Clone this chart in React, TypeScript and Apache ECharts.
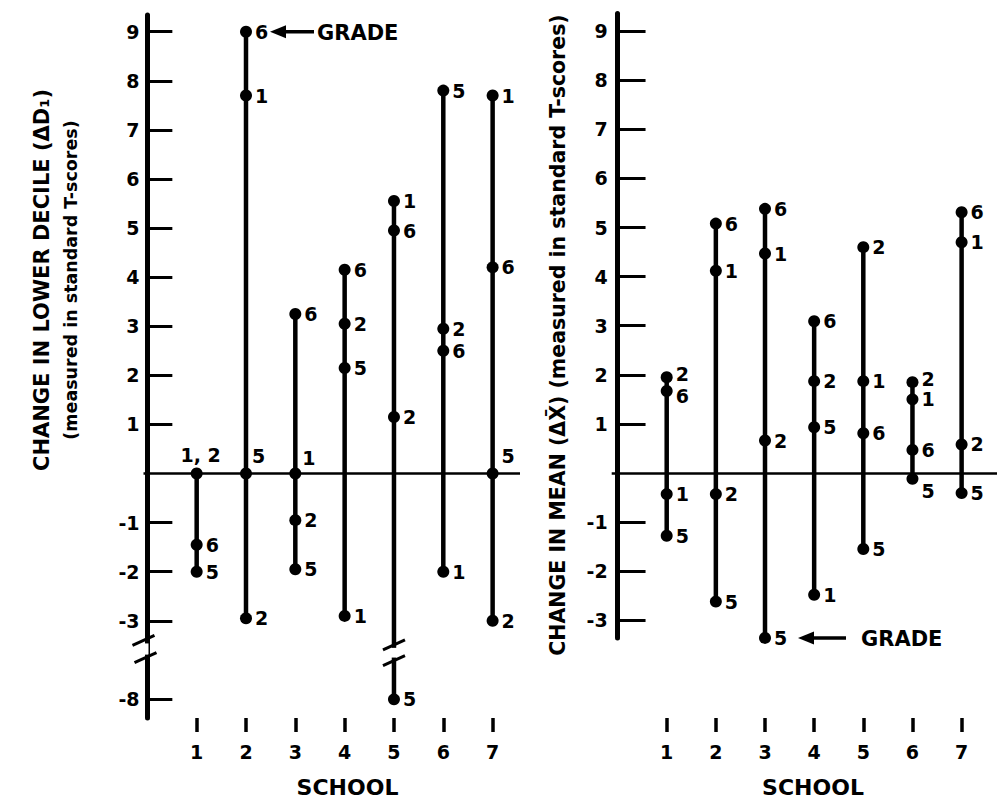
import React, { useEffect, useRef } from "react";
import * as echarts from "echarts";

// ---------- data ----------
const schools = [1, 2, 3, 4, 5, 6, 7];
const grades = [1, 2, 5, 6];
const yTickValues = [9, 8, 7, 6, 5, 4, 3, 2, 1, -1, -2, -3];
const decileTickBelowBreak = -8;

// Change in lower decile (ΔD1), one value per school, per grade
const decileGrade1 = [0, 7.7, 0, -2.9, 5.55, -2.0, 7.7];
const decileGrade2 = [0, -2.95, -0.95, 3.05, 1.15, 2.95, -3.0];
const decileGrade5 = [-2.0, 0, -1.95, 2.15, -8, 7.8, 0];
const decileGrade6 = [-1.45, 9.0, 3.25, 4.15, 4.95, 2.5, 4.2];

// Change in mean (ΔX̄)
const meanGrade1 = [-0.43, 4.12, 4.47, -2.48, 1.87, 1.5, 4.7];
const meanGrade2 = [1.95, -0.43, 0.66, 1.87, 4.6, 1.85, 0.58];
const meanGrade5 = [-1.28, -2.62, -3.36, 0.93, -1.55, -0.12, -0.41];
const meanGrade6 = [1.67, 5.08, 5.38, 3.09, 0.81, 0.47, 5.31];

// ---------- styling / layout ----------
const FONT = "'DejaVu Sans', 'Liberation Sans', sans-serif";
const SYM = 12;
const BREAK_FROM = -3;
const BREAK_SCALE = 0.32;
const tfDecile = (v: number) => (v < BREAK_FROM ? BREAK_FROM + (v - BREAK_FROM) * BREAK_SCALE : v);

type Nudge = { dx: number; dy: number; align?: "left" | "center" };
const defaultNudge: Nudge = { dx: 9, dy: 0 };
const nudges: Record<string, Nudge> = {
  "decile-1-1, 2": { dx: 4, dy: -19, align: "center" },
  "decile-2-5": { dx: 6, dy: -18 },
  "decile-3-1": { dx: 7, dy: -16 },
  "decile-7-5": { dx: 9, dy: -18 },
  "mean-1-2": { dx: 9, dy: -3 },
  "mean-1-6": { dx: 9, dy: 5 },
  "mean-6-2": { dx: 9, dy: -3 },
  "mean-6-5": { dx: 9, dy: 12 },
};

const LEFT = { xMin: -0.078, xMax: 7.555, yMin: -4.98, yMax: 9.34, left: 143.5, top: 15, width: 376.5, height: 703 };
const RIGHT = { xMin: -0.119, xMax: 7.72, yMin: -3.36, yMax: 9.36, left: 611.7, top: 13.5, width: 385.3, height: 624.4 };

function buildSeries(panel: "decile" | "mean", axisIndex: number, arrays: number[][], tf: (v: number) => number) {
  return schools.map((school, si) => {
    const groups: { value: number; label: string[] }[] = [];
    grades.forEach((g, gi) => {
      const v = arrays[gi][si];
      const found = groups.find((x) => x.value === v);
      if (found) found.label.push(String(g));
      else groups.push({ value: v, label: [String(g)] });
    });
    groups.sort((a, b) => b.value - a.value);
    const data = groups.map((gr) => {
      const lab = gr.label.join(", ");
      const n = nudges[`${panel}-${school}-${lab}`] || defaultNudge;
      return {
        name: lab,
        value: [school, tf(gr.value)],
        label: {
          position: [SYM / 2 + n.dx, SYM / 2 + n.dy],
          align: n.align || "left",
          verticalAlign: "middle",
        },
      };
    });
    const s: any = {
      type: "line",
      xAxisIndex: axisIndex,
      yAxisIndex: axisIndex,
      data,
      symbol: "circle",
      symbolSize: SYM,
      silent: true,
      itemStyle: { color: "#000" },
      lineStyle: { color: "#000", width: 4.5 },
      label: {
        show: true,
        formatter: "{b}",
        fontFamily: FONT,
        fontWeight: "bold",
        fontSize: 19,
        color: "#000",
      },
      z: 3,
    };
    if (si === 0) {
      s.markLine = {
        silent: true,
        symbol: "none",
        label: { show: false },
        lineStyle: { color: "#000", width: 2.5, type: "solid" },
        data: [{ yAxis: 0 }],
      };
    }
    return s;
  });
}

function yAxisCfg(gridIndex: number, range: any, tickLen: number, ticks: number[], fmt: (v: number) => string) {
  return {
    type: "value",
    gridIndex,
    min: range.yMin,
    max: range.yMax,
    axisLine: { show: true, lineStyle: { color: "#000", width: 5 } },
    axisTick: { show: true, inside: true, length: tickLen, customValues: ticks, lineStyle: { color: "#000", width: 3 } },
    axisLabel: {
      show: true,
      customValues: ticks,
      formatter: fmt,
      margin: 4,
      fontFamily: FONT,
      fontWeight: "bold",
      fontSize: 19,
      color: "#000",
    },
    splitLine: { show: false },
  };
}

function xAxisCfg(gridIndex: number, range: any, offset: number) {
  return {
    type: "value",
    gridIndex,
    min: range.xMin,
    max: range.xMax,
    position: "bottom",
    offset,
    axisLine: { show: true, onZero: false, lineStyle: { color: "rgba(0,0,0,0)", width: 1 } },
    axisTick: { show: true, length: 14, customValues: schools, lineStyle: { color: "#000", width: 3.5 } },
    axisLabel: {
      show: true,
      customValues: schools,
      margin: 24,
      fontFamily: FONT,
      fontWeight: "bold",
      fontSize: 19,
      color: "#000",
    },
    splitLine: { show: false },
  };
}

export default function App() {
  const ref = useRef<HTMLDivElement>(null);
  useEffect(() => {
    const chart = echarts.init(ref.current!, null, { renderer: "svg" });
    const decileTicks = [...yTickValues, tfDecile(decileTickBelowBreak)];
    const option: any = {
      animation: false,
      backgroundColor: "#fff",
      grid: [
        { left: LEFT.left, top: LEFT.top, width: LEFT.width, height: LEFT.height, containLabel: false, outerBoundsMode: "none" },
        { left: RIGHT.left, top: RIGHT.top, width: RIGHT.width, height: RIGHT.height, containLabel: false, outerBoundsMode: "none" },
      ],
      xAxis: [xAxisCfg(0, LEFT, 0), xAxisCfg(1, RIGHT, 718 - (RIGHT.top + RIGHT.height))],
      yAxis: [
        yAxisCfg(0, LEFT, 25, decileTicks, (v: number) => (v < BREAK_FROM - 0.01 ? String(decileTickBelowBreak) : String(v))),
        yAxisCfg(1, RIGHT, 28, yTickValues, (v: number) => String(v)),
      ],
      series: [
        ...buildSeries("decile", 0, [decileGrade1, decileGrade2, decileGrade5, decileGrade6], tfDecile),
        ...buildSeries("mean", 1, [meanGrade1, meanGrade2, meanGrade5, meanGrade6], (v) => v),
      ],
    };
    chart.setOption(option);

    const px = (i: number, x: number, y: number) => chart.convertToPixel({ xAxisIndex: i, yAxisIndex: i } as any, [x, y]) as number[];
    const g: any[] = [];
    const txt = (x: number, y: number, text: string, size: number, opts: any = {}) => ({
      type: "text",
      x,
      y,
      z: 60,
      rotation: opts.rotation || 0,
      style: {
        text,
        fontFamily: FONT,
        fontWeight: "bold",
        fontSize: size,
        fill: "#000",
        align: opts.align || "center",
        verticalAlign: "middle",
      },
    });
    const slash = (cx: number, cy: number) => ({
      type: "line",
      z: 60,
      shape: { x1: cx - 11, y1: cy + 5, x2: cx + 11, y2: cy - 5 },
      style: { stroke: "#000", lineWidth: 3 },
    });
    const gapRect = (cx: number, y1: number, y2: number) => ({
      type: "rect",
      z: 55,
      shape: { x: cx - 5, y: y1, width: 10, height: y2 - y1 },
      style: { fill: "#fff" },
    });

    // axis break on the left value axis
    const axisX = px(0, LEFT.xMin, 0)[0];
    const a1 = px(0, LEFT.xMin, -3.4)[1];
    const a2 = px(0, LEFT.xMin, -3.75)[1];
    g.push(gapRect(axisX, a1 + 3, a2 - 3), slash(axisX, a1), slash(axisX + 2, a2));
    // break on school 5 line
    const s5x = px(0, 5, 0)[0];
    const b1 = px(0, 5, -3.49)[1];
    const b2 = px(0, 5, -3.81)[1];
    g.push(gapRect(s5x, b1 + 3, b2 - 3), slash(s5x, b1), slash(s5x, b2));

    // GRADE annotations
    const arrow = (p: number[], tipDx: number, tailDx: number, textDx: number) => {
      const tip = p[0] + tipDx;
      const y = p[1];
      g.push({ type: "line", z: 60, shape: { x1: tip + 10, y1: y, x2: p[0] + tailDx, y2: y }, style: { stroke: "#000", lineWidth: 3.5 } });
      g.push({ type: "polygon", z: 60, shape: { points: [[tip, y], [tip + 16, y - 6.5], [tip + 16, y + 6.5]] }, style: { fill: "#000" } });
      g.push(txt(p[0] + textDx, y + 1, "GRADE", 21, { align: "left" }));
    };
    arrow(px(0, 2, decileGrade6[1]), 24, 68, 71);
    arrow(px(1, 3, meanGrade5[2]), 33, 81, 96);

    // axis titles
    g.push(txt(42, 280, "CHANGE IN LOWER DECILE (ΔD\u2081)", 21, { rotation: Math.PI / 2 }));
    g.push(txt(71, 280, "(measured in standard T-scores)", 17.5, { rotation: Math.PI / 2 }));
    g.push(txt(558, 335, "CHANGE IN MEAN (ΔX\u0304) (measured in standard T-scores)", 20.5, { rotation: Math.PI / 2 }));
    g.push(txt(347.5, 787, "SCHOOL", 22));
    g.push(txt(813, 787, "SCHOOL", 22));

    chart.setOption({ graphic: g });
    return () => chart.dispose();
  }, []);
  return (
    <div
      ref={ref}
      style={{ position: "absolute", left: 0, top: 0, width: 997, height: 804, background: "#fff" }}
    />
  );
}
